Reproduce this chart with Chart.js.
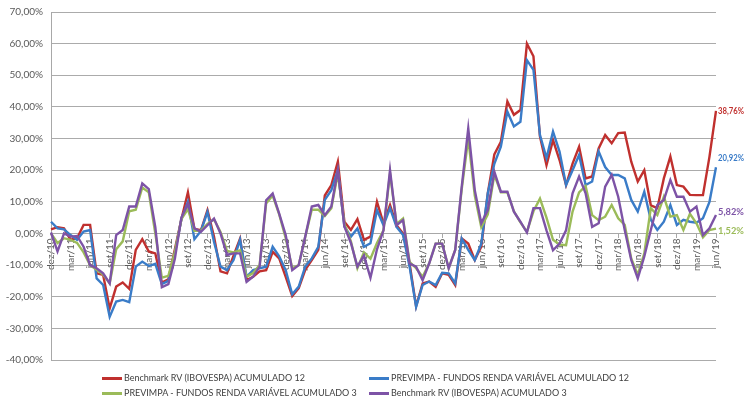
<!DOCTYPE html>
<html>
<head>
<meta charset="utf-8">
<script src="https://cdn.jsdelivr.net/npm/chart.js@4.4.1/dist/chart.umd.min.js"></script>
<style>
html,body{margin:0;padding:0;background:#ffffff;}
#wrap{position:relative;width:745px;height:400px;overflow:hidden;}
#c{position:absolute;left:0;top:0;}
.item{position:absolute;height:14px;line-height:14px;display:flex;align-items:center;white-space:nowrap;
  font-family:Lato,'Liberation Sans',sans-serif;font-size:9px;color:#404040;}
.sw{display:inline-block;width:20px;height:3px;margin-right:2px;}
</style>
</head>
<body>
<div id="wrap">
<canvas id="c" width="745" height="400"></canvas>
<div id="legend"></div>
</div>
<script>
const categories = [
 'dez/10',
 'jan/11','fev/11','mar/11','abr/11','mai/11','jun/11','jul/11','ago/11','set/11','out/11','nov/11','dez/11',
 'jan/12','fev/12','mar/12','abr/12','mai/12','jun/12','jul/12','ago/12','set/12','out/12','nov/12','dez/12',
 'jan/13','fev/13','mar/13','abr/13','mai/13','jun/13','jul/13','ago/13','set/13','out/13','nov/13','dez/13',
 'jan/14','fev/14','mar/14','abr/14','mai/14','jun/14','jul/14','ago/14','set/14','out/14','nov/14','dez/14',
 'jan/15','fev/15','mar/15','abr/15','mai/15','jun/15','jul/15','ago/15','set/15','out/15','nov/15','dez/15',
 'jan/16','fev/16','mar/16','abr/16','mai/16','jun/16','jul/16','ago/16','set/16','out/16','nov/16','dez/16',
 'jan/17','fev/17','mar/17','abr/17','mai/17','jun/17','jul/17','ago/17','set/17','out/17','nov/17','dez/17',
 'jan/18','fev/18','mar/18','abr/18','mai/18','jun/18','jul/18','ago/18','set/18','out/18','nov/18','dez/18',
 'jan/19','fev/19','mar/19','abr/19','mai/19','jun/19'
];

const seriesNames = [
 'Benchmark RV (IBOVESPA) ACUMULADO 12',
 'PREVIMPA - FUNDOS RENDA VARIÁVEL ACUMULADO 12',
 'PREVIMPA - FUNDOS RENDA VARIÁVEL ACUMULADO 3',
 'Benchmark RV (IBOVESPA) ACUMULADO 3'
];

const benchmark12 = [
 1.3, 2, 1.6, -2, -1.5, 2.7, 2.7, -12.6, -13.1, -23.7,
 -16.8, -15.5, -17.5, -5.2, -1.8, -5.7, -6.3, -15.5, -14.5, -5,
 4.5, 13, 1.4, 1, 7.4, -1, -12, -12.6, -7, -1.6,
 -14.7, -13.7, -12, -11.6, -5.8, -7.9, -13.7, -19.8, -17.3, -11.5,
 -8.4, -5.2, 12, 15.3, 22.7, 3.7, 1.1, 4.5, -2, -1,
 10, 3.2, 9, 2.6, 0, -9.5, -23, -15.8, -15.2, -16.9,
 -12.6, -13.1, -16.3, -1.6, -3.2, -8.4, -4.2, 12.7, 25, 29,
 41.7, 37.5, 39, 60, 56, 30.6, 21.6, 29.5, 23.2, 15.3,
 22.1, 27.4, 17.4, 18, 26.9, 31.1, 28.5, 31.7, 31.9, 22.7,
 16.4, 20, 8.9, 8, 17.4, 24.3, 15.3, 14.8, 12.2, 12.1,
 12.1, 24.3, 38.76
];

const previmpa12 = [
 3.7, 1.6, 1.3, -0.5, -2, 0.6, 1.1, -14.2, -16.3, -26.3,
 -21.5, -21, -21.7, -10.5, -8.9, -10.3, -9.6, -16, -15, -6,
 4.5, 10, -1.8, 0.8, 6.8, -2.6, -10.5, -11.6, -8.4, -2,
 -13.7, -11.6, -11, -10.5, -4.2, -7.2, -11.6, -19.2, -16.8, -10.5,
 -7.9, -4.2, 10.6, 13.7, 20, 2.2, -1, 1.6, -4.2, -3.1,
 7.4, 2.6, 8, 2.1, -0.5, -10.5, -23.2, -16.3, -15.2, -16.3,
 -12.4, -12.6, -15.8, -1.6, -5.2, -8.4, -3.2, 12.7, 22, 27.4,
 38.5, 33.8, 35.3, 54.8, 51.7, 31.1, 23.8, 32.2, 25.9, 15.3,
 20, 24.8, 15.3, 16.4, 25.9, 21, 18.5, 18.5, 17.4, 10.6,
 6.9, 13.2, 4.3, 1.1, 3.7, 9, 2.7, 4.3, 3.7, 3.4,
 4.8, 10, 20.92
];

const previmpa3 = [
 0, -3, -1.5, -2, -3, -6, -10, -11.5, -13, -15.8,
 -5, -2.5, 7, 7.5, 14.5, 13, 0, -14, -13.4, -6,
 4.5, 7.7, 0.8, 0.8, 3, 4.5, 0.5, -5.5, -6, -5.3,
 -13.7, -12.5, -10, 9.5, 12, 6, -1.5, -11, -10, -1,
 7.5, 7.5, 5.5, 8, 19, 3, -2.5, -11, -6, -8,
 -3, 1, 19, 3, 4.7, -9, -11, -13.7, -9.5, -3.2,
 -3.2, -11, -5.2, 14, 30, 12, 2, 6, 18.5, 13,
 13, 7, 3.5, 0.5, 7, 11, 5, -2, -3.5, -3.7,
 6.9, 13, 15, 5.8, 4.2, 5.3, 9, 4.8, 2.7, -7.9,
 -13.1, -6.3, 8, 5.8, 11.6, 5.3, 5.8, 1.1, 6.2, 3.2,
 -1.2, 1.1, 1.52
];

const benchmark3 = [
 0.3, -5.7, 0, -1, -0.8, -4.2, -10, -11, -12.6, -15.8,
 -0.5, 1.1, 8.5, 8.5, 15.8, 14, 2, -17, -16, -8,
 5, 9.3, 1.6, 0.5, 2.6, 4.7, 0, -6.8, -6.3, -6.3,
 -15.3, -13.7, -10.5, 10.5, 12.6, 6.3, -0.5, -11.6, -10, -1,
 8.5, 9, 5.8, 8.5, 20, 2.2, -3, -10.5, -7, -14,
 -5, 1, 20, 2.6, 4.2, -9.5, -10.5, -14.8, -9.5, -3.2,
 -3.2, -11, -5.2, 14.8, 33.2, 13.7, 3.2, 7.4, 19.5, 13.2,
 13.2, 6.9, 3.7, 0.3, 8, 8, 1, -5.3, -3.2, 1,
 12.7, 18, 12.7, 2.1, 3.2, 14.8, 18.5, 11.6, 1.1, -8.4,
 -14.2, -7.3, 1.1, 9, 10.6, 16.9, 11.6, 11.6, 6.9, 8.5,
 -0.5, 1.6, 5.82
];

const yTicks = [-40, -30, -20, -10, 0, 10, 20, 30, 40, 50, 60, 70];

const colors = ['#C0302E', '#3A7CC8', '#9BBB59', '#7D53A6'];
const endLabelDy = [0, -9, 2, -3];
const seriesData = [benchmark12, previmpa12, previmpa3, benchmark3];

const fmt = v => v.toFixed(2).replace('.', ',') + '%';
const FONT = "Lato, 'Liberation Sans', sans-serif";

const endLabels = {
  id: 'endLabels',
  afterDatasetsDraw(chart) {
    const ctx = chart.ctx;
    chart.data.datasets.forEach((ds, i) => {
      const meta = chart.getDatasetMeta(i);
      const pt = meta.data[meta.data.length - 1];
      const txt = fmt(ds.data[ds.data.length - 1]);
      ctx.save();
      ctx.font = 'bold 9.5px ' + FONT;
      ctx.textAlign = 'left';
      ctx.textBaseline = 'middle';
      ctx.fillStyle = colors[i];
      const x0 = pt.x + 2;
      const avail = chart.width - x0 - 1;
      const w = ctx.measureText(txt).width;
      const sx = w > avail ? avail / w : 1;
      ctx.translate(x0, pt.y + endLabelDy[i]);
      ctx.scale(sx, 1);
      ctx.fillText(txt, 0, 0);
      ctx.restore();
    });
  }
};

const chart = new Chart(document.getElementById('c'), {
  type: 'line',
  data: {
    labels: categories,
    datasets: seriesData.map((d, i) => ({
      label: seriesNames[i],
      data: d,
      borderColor: colors[i],
      backgroundColor: colors[i],
      borderWidth: 2.4,
      pointRadius: 0,
      tension: 0,
      fill: false,
      order: 3 - i
    }))
  },
  options: {
    responsive: false,
    animation: false,
    layout: { padding: { left: 0, right: 29, top: 12, bottom: 40 } },
    plugins: { legend: { display: false }, tooltip: { enabled: false }, title: { display: false } },
    scales: {
      x: {
        type: 'category',
        position: { y: 0 },
        offset: false,
        border: { display: true, color: '#A8A8A8', width: 1 },
        grid: {
          display: true,
          drawOnChartArea: false,
          drawTicks: true,
          tickLength: 4,
          color: c => (c.index % 3 === 0 ? '#A8A8A8' : 'rgba(0,0,0,0)')
        },
        ticks: {
          autoSkip: false,
          minRotation: 90,
          maxRotation: 90,
          padding: 1,
          color: '#595959',
          font: { family: FONT, size: 10 },
          callback: function (value, index) {
            return index % 3 === 0 ? this.getLabelForValue(value) : '';
          }
        },
        afterFit: s => { s.height = 0; s.paddingLeft = 0; s.paddingRight = 0; }
      },
      y: {
        min: -40,
        max: 70,
        afterBuildTicks: s => { s.ticks = yTicks.map(v => ({ value: v })); },
        border: { display: true, color: '#A8A8A8', width: 1 },
        grid: { color: '#ABABAB', lineWidth: 1, drawTicks: false },
        ticks: {
          padding: 8,
          color: '#595959',
          font: { family: FONT, size: 10 },
          callback: v => fmt(v)
        },
        afterFit: s => { s.width = 51; s.paddingTop = 0; s.paddingBottom = 0; }
      }
    }
  },
  plugins: [endLabels]
});

// HTML legend
const legendPos = [[102, 371], [369, 371], [102, 386], [369, 386]];
const lg = document.getElementById('legend');
seriesNames.forEach((n, i) => {
  const d = document.createElement('div');
  d.className = 'item';
  d.style.left = legendPos[i][0] + 'px';
  d.style.top = legendPos[i][1] + 'px';
  const sw = document.createElement('span');
  sw.className = 'sw';
  sw.style.background = colors[i];
  const t = document.createElement('span');
  t.textContent = n;
  d.appendChild(sw);
  d.appendChild(t);
  lg.appendChild(d);
});
</script>
</body>
</html>
